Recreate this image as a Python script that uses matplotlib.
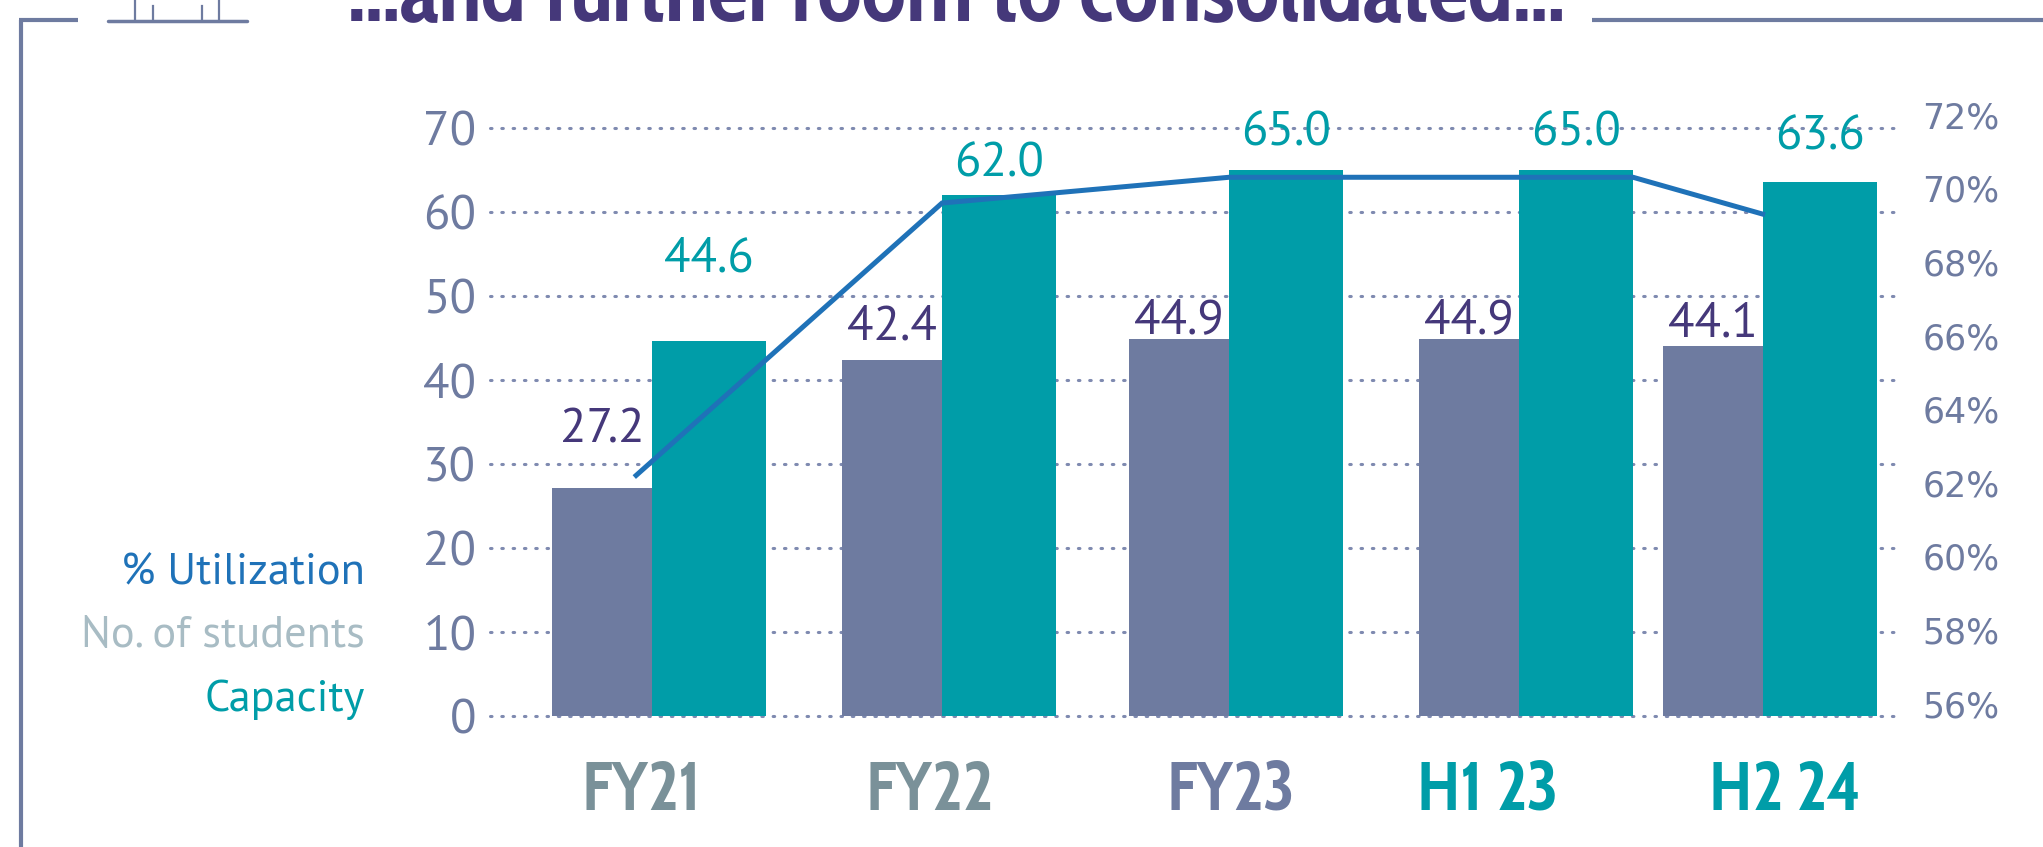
import matplotlib
matplotlib.use("Agg")
import matplotlib.pyplot as plt
import numpy as np

body_font = ['PT Sans', 'Fira Sans', 'Open Sans', 'DejaVu Sans']
cond_font = ['Cabin Condensed', 'Asap Condensed', 'Barlow Semi Condensed', 'DejaVu Sans']
plt.rcParams['font.family'] = body_font

# Data
periods = ['FY21', 'FY22', 'FY23', 'H1 23', 'H2 24']
students = [27.2, 42.4, 44.9, 44.9, 44.1]
capacity = [44.6, 62.0, 65.0, 65.0, 63.6]
utilization = [62.2, 69.6, 70.3, 70.3, 69.3]   # %

# Layout (group positions, boundary between the two bars)
x_pos = np.array([0.0, 1.0, 1.99, 2.99, 3.83])
w_stud = 0.345
w_cap = 0.393
util_off = np.array([-0.055, 0.0, 0.0, w_cap, 0.0])
xlab_off = np.array([-0.038, -0.045, 0.007, -0.107, 0.077])
stud_lab_off = [41, 23, 13, 13, 15]     # points above bar value
cap_lab_off = [59, 22, 26, 26, 32]

# Colours
c_slate = '#6e7ba0'
c_teal = '#009da8'
c_purple = '#45387a'
c_blue = '#1f72b8'
c_grey = '#a8bcc4'
xlab_colors = ['#7a9199', '#7a9199', c_slate, c_teal, c_teal]

W, H = 2043, 847
fig = plt.figure(figsize=(W / 100, H / 100), dpi=100)

# frame + header decoration in pixel coords
ov = fig.add_axes([0, 0, 1, 1], zorder=0)
ov.set_xlim(0, W)
ov.set_ylim(H, 0)
ov.axis('off')
ov.plot([21, 21], [20, H], color=c_slate, lw=3, solid_capstyle='butt')
ov.plot([19, 78], [20, 20], color=c_slate, lw=3, solid_capstyle='butt')
ov.plot([1592, W], [20, 20], color=c_slate, lw=3, solid_capstyle='butt')
ov.plot([108, 247], [21, 21], color=c_slate, lw=2.5, solid_capstyle='round')
for xi, y0 in [(135, 0), (153, 6), (202, 6), (219, 0)]:
    ov.plot([xi, xi], [y0, 21], color=c_slate, lw=1.6)

fig.text(348 / W, 1 - 20 / H, '\u2026and further room to consolidated\u2026',
         family=cond_font, weight='bold', fontsize=65,
         color=c_purple, ha='left', va='baseline')

# main (bars) axes
ax = fig.add_axes([490 / W, 1 - 716 / H, 1406 / W, 588 / H], zorder=1)
ax.set_xlim(-0.559, 4.29)
ax.set_ylim(0, 70)
ax.patch.set_visible(False)
for s in ax.spines.values():
    s.set_visible(False)

ax.set_yticks(range(0, 71, 10))
ax.set_axisbelow(True)
ax.grid(axis='y', color='#7f8ab0', lw=2.2, linestyle=(0, (0.5, 3.2)),
        dash_capstyle='round')
for gl in ax.get_ygridlines():
    gl.set_clip_on(False)
ax.tick_params(axis='y', length=0, pad=10, labelsize=35, labelcolor=c_slate)

ax.bar(x_pos, students, width=-w_stud, align='edge', color=c_slate)
ax.bar(x_pos, capacity, width=w_cap, align='edge', color=c_teal)

for i in range(len(periods)):
    ax.annotate(f'{students[i]:.1f}', (x_pos[i] - w_stud / 2, students[i]),
                xytext=(0, stud_lab_off[i]), textcoords='offset points',
                ha='center', va='center', fontsize=35, color=c_purple)
    ax.annotate(f'{capacity[i]:.1f}', (x_pos[i] + w_cap / 2, capacity[i]),
                xytext=(0, cap_lab_off[i]), textcoords='offset points',
                ha='center', va='center', fontsize=35, color=c_teal)

ax.set_xticks(x_pos + xlab_off, periods)
ax.tick_params(axis='x', length=0, pad=30)
for lbl, col in zip(ax.get_xticklabels(), xlab_colors):
    lbl.set_color(col)
    lbl.set_fontfamily(cond_font)
    lbl.set_fontweight('bold')
    lbl.set_fontsize(49)

# utilization axis on the right
ax2 = fig.add_axes([490 / W, 1 - 703.6 / H, 1406 / W, 588.9 / H],
                   sharex=ax, zorder=2)
ax2.patch.set_visible(False)
for s in ax2.spines.values():
    s.set_visible(False)
ax2.set_ylim(56, 72)
ax2.set_yticks(range(56, 73, 2))
ax2.set_yticklabels([f'{v}%' for v in range(56, 73, 2)])
ax2.yaxis.tick_right()
ax2.tick_params(axis='y', length=0, pad=19, labelcolor=c_slate)
for lbl in ax2.get_yticklabels():
    lbl.set_fontfamily('DejaVu Sans')
    lbl.set_fontsize(25)
ax2.tick_params(axis='x', bottom=False, labelbottom=False)

ax2.plot(x_pos + util_off, utilization, color=c_blue, lw=3.6,
         solid_joinstyle='miter')

# legend-like labels on the left
fig.text(365 / W, 1 - 573 / H, '% Utilization', ha='right', va='center',
         fontsize=32, color=c_blue)
fig.text(365 / W, 1 - 636 / H, 'No. of students', ha='right', va='center',
         fontsize=32, color=c_grey)
fig.text(365 / W, 1 - 700 / H, 'Capacity', ha='right', va='center',
         fontsize=32, color=c_teal)

fig.savefig('out.png', dpi=100)
